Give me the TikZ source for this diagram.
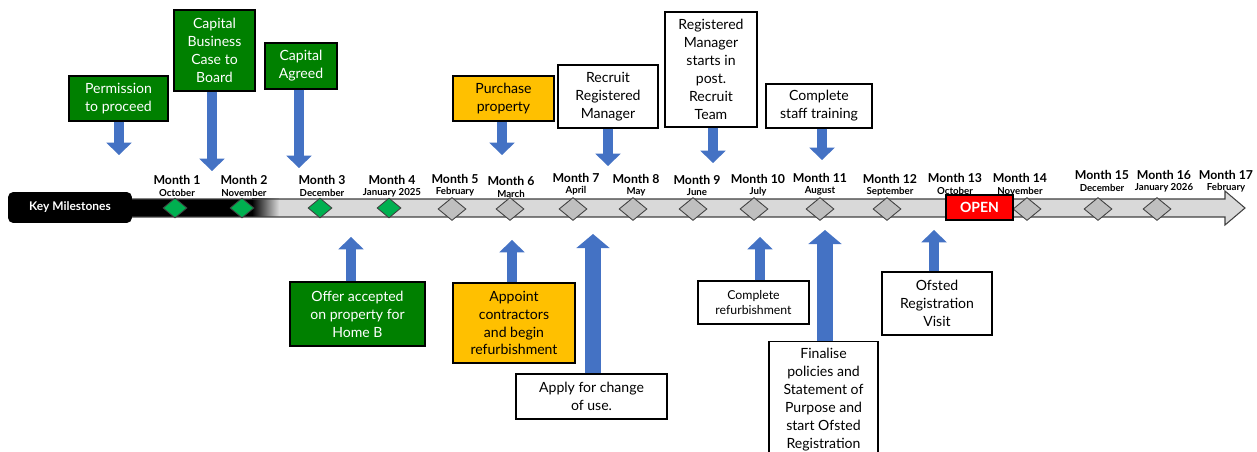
\documentclass[tikz,border=0pt]{standalone}
\usepackage{fontspec}
\setmainfont{Lato}
\usetikzlibrary{arrows.meta,shapes.geometric,positioning}
\definecolor{boxgreen}{HTML}{008000}
\definecolor{dgreen}{HTML}{00B050}
\definecolor{amber}{HTML}{FFC000}
\definecolor{arrowblue}{HTML}{4472C4}
\definecolor{bargray}{HTML}{D9D9D9}
\definecolor{dgray}{HTML}{BFBFBF}
\definecolor{edge}{HTML}{404040}

\tikzset{
  box/.style={draw=black, line width=0.6pt, align=center, inner sep=1pt,
    font=\fontsize{8}{10.2}\selectfont, minimum width=#1*0.02cm},
  greenbox/.style={box=#1, fill=boxgreen, text=white},
  amberbox/.style={box=#1, fill=amber},
  tall/.style={minimum height=#1*0.02cm},
  blk/.style={draw=arrowblue, line width=6.2pt,
    -{Triangle[width=14.5pt,length=7pt,line width=0pt]}},
  bigblk/.style={draw=arrowblue, line width=9pt,
    -{Triangle[width=19pt,length=8pt,line width=0pt]}},
  gem/.style={diamond, draw=edge, line width=0.5pt, inner sep=0pt,
    minimum width=0.56cm, minimum height=0.46cm, fill=dgray},
  greengem/.style={gem, fill=dgreen, minimum width=0.48cm, minimum height=0.4cm},
  monthlbl/.style={font=\bfseries\fontsize{7}{8}\selectfont, inner sep=0pt},
  namelbl/.style={font=\bfseries\fontsize{5.5}{6}\selectfont, inner sep=0pt}
}

\begin{document}
\begin{tikzpicture}[x=0.02cm,y=-0.02cm]
        \useasboundingbox (0,0) rectangle (1257,452);
        % timeline bar
        \fill[bargray] (132,199) -- (1225,199) -- (1225,191) -- (1245,208)
          -- (1225,225) -- (1225,217) -- (132,217) -- cycle;
        \fill[black] (132,199) rectangle (253,217);
        \shade[left color=black, right color=bargray] (252,199) rectangle (279,217);
        \draw[edge, line width=0.6pt] (132,199) -- (1225,199) -- (1225,191) -- (1245,208)
          -- (1225,225) -- (1225,217) -- (132,217);
        \node[fill=black, rounded corners=3pt, minimum width=2.48cm, minimum height=0.62cm,
          text=white, font=\bfseries\fontsize{6.8}{7}\selectfont] (key) at (70,207.5) {Key Milestones};

        % months
        \foreach \n/\x/\y/\m in {1/177/180/October, 2/244/180/November, 3/322/180/December,
            4/392/180/January 2025, 5/455/179/February, 6/511/181/March, 7/576/178/April,
            8/636/179/May, 9/697/180/June, 10/758/179/July, 11/820/178/August,
            12/890/179/September, 13/955/178/October, 14/1020/178/November,
            15/1102/175/December, 16/1164/175/January 2026, 17/1226/175/February} {
          \node[monthlbl] (m\n) at (\x,\y) {Month \n};
          \node[namelbl] (mn\n) at (\x,\y+12.5) {\m};
        }
        \foreach \n/\x in {1/175, 2/242, 3/320, 4/389}
          \node[greengem] (d\n) at (\x,208) {};
        \foreach \n/\x in {5/452, 6/510, 7/573, 8/633, 9/693, 10/754, 11/820, 12/887,
            14/1027, 15/1098, 16/1157}
          \node[gem] (d\n) at (\x,209) {};
        \node[draw=black, line width=0.6pt, fill=red, text=white, minimum width=1.34cm,
          minimum height=0.5cm, inner sep=0pt, font=\bfseries\fontsize{8}{9}\selectfont]
          (open) at (979.5,207.5) {OPEN};

        % milestones above
        \node[greenbox=99, tall=45] (perm) at (118.5,98.5) {Permission\\to proceed};
        \node[greenbox=81, tall=81] (bcase) at (214.5,50.5) {Capital\\Business\\Case to\\Board};
        \node[greenbox=72, tall=46] (capag) at (301,66) {Capital\\Agreed};
        \node[amberbox=101, tall=45] (purch) at (503.5,98.5) {Purchase\\property};
        \node[box=100, tall=63] (recr) at (608,96.5) {Recruit\\Registered\\Manager};
        \node[box=92, tall=115] (rmst) at (711,69.5) {Registered\\Manager\\starts in\\post.\\Recruit\\Team};
        \node[box=106, tall=44] (train) at (819,106) {Complete\\staff training};

        \coordinate (t-perm) at (119,155);
        \coordinate (t-bcase) at (212,171);
        \coordinate (t-capag) at (299,168);
        \coordinate (t-purch) at (502,155);
        \coordinate (t-recr) at (608,166);
        \coordinate (t-rmst) at (713,163);
        \coordinate (t-train) at (822,160);
        \foreach \b in {perm, bcase, capag, purch, recr, rmst, train}
          \draw[blk] (\b.south -| t-\b) -- (t-\b);

        % milestones below
        \node[greenbox=135, tall=64] (offer) at (357.5,314) {Offer accepted\\on property for\\Home B};
        \node[amberbox=122, tall=80] (appt) at (514,323) {Appoint\\contractors\\and begin\\refurbishment};
        \node[box=151, tall=45] (apply) at (591.5,396.5) {Apply for change\\of use.};
        \node[box=111, tall=43, font=\fontsize{7}{9}\selectfont] (refurb) at (753.5,302.5) {Complete\\refurbishment};
        \node[box=109, anchor=north, inner ysep=4pt] (final) at (823.5,341)
          {Finalise\\policies and\\Statement of\\Purpose and\\start Ofsted\\Registration\\[6pt]};
        \node[box=110, tall=63] (visit) at (937,303.5) {Ofsted\\Registration\\Visit};

        \coordinate (t-offer) at (351,237);
        \coordinate (t-appt) at (512,240);
        \coordinate (t-apply) at (593,234);
        \coordinate (t-refurb) at (760,237);
        \coordinate (t-final) at (825,230);
        \coordinate (t-visit) at (934,230);
        \foreach \b in {offer, appt, refurb, visit}
          \draw[blk] (\b.north -| t-\b) -- (t-\b);
        \foreach \b in {apply, final}
          \draw[bigblk] (\b.north -| t-\b) -- (t-\b);
      \end{tikzpicture}
\end{document}
